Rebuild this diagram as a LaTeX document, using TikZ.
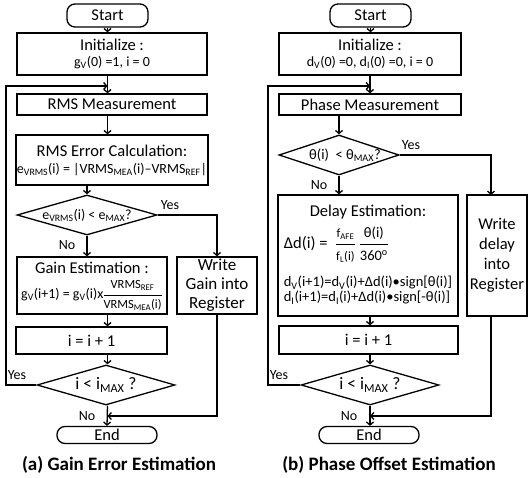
\documentclass[tikz,border=0pt]{standalone}
\usepackage{fontspec}
\setmainfont{Carlito}
\usepackage{amsmath}
\usetikzlibrary{shapes.geometric,arrows.meta}
\newcommand{\sbs}[1]{\textsubscript{#1}}
\newcommand{\mainsz}{\fontsize{16.5}{18}\selectfont}
\newcommand{\eqsz}{\fontsize{14}{15}\selectfont}
\newcommand{\dsz}{\fontsize{14.5}{15}\selectfont}
\newcommand{\frsz}{\fontsize{12.5}{13}\selectfont}
\tikzset{
    flow/.style={draw, line width=1.3pt, inner sep=1pt, align=center, font=\mainsz},
    term/.style={flow, rounded corners=8pt},
    proc/.style={flow},
    decis/.style={draw, line width=1.3pt, diamond, inner sep=0pt},
    arr/.style={line width=1.3pt, -{Straight Barb[length=3pt,width=7pt]}},
    tag/.style={font=\fontsize{14}{15}\selectfont, inner sep=0pt},
    capt/.style={font=\fontsize{19}{21}\selectfont\bfseries, inner sep=0pt}
}

\begin{document}
\begin{tikzpicture}[x=1pt, y=-1pt]
    \useasboundingbox (0,0) rectangle (528,478);

    % (a) gain
    \node[term, minimum width=81pt, minimum height=23pt] (startA) at (107.5,15.5) {Start};
    \node[proc, minimum width=190pt, minimum height=42pt] (initA) at (112,54)
        {Initialize :\\[-2pt] {\eqsz g\sbs{V}(0) =1, i = 0}};
    \node[proc, minimum width=190pt, minimum height=21pt] (measA) at (112,104.5) {RMS Measurement};
    \node[proc, minimum width=190pt, minimum height=50pt] (errA) at (112,160)
        {RMS Error Calculation:\\[-1pt] {\eqsz e\sbs{VRMS}(i) = |VRMS\sbs{MEA}(i)--VRMS\sbs{REF}|}};
    \node[decis, minimum width=140pt, minimum height=40pt,
        label={[font=\fontsize{14}{15}\selectfont]center:e\sbs{VRMS}(i) < e\sbs{MAX}?}] (decA1) at (87,215) {};
    \node[proc, minimum width=150pt, minimum height=57pt, inner sep=0pt] (gainA) at (92,285.5)
        {\begin{tabular}{@{}c@{}}
            Gain Estimation :\\[2pt]
            {\eqsz g\sbs{V}(i+1) = g\sbs{V}(i)x\hspace{-1pt}$\dfrac{\text{\frsz VRMS\sbs{REF}}}{\text{\frsz VRMS\sbs{MEA}(i)}}$}
        \end{tabular}};
    \node[proc, minimum width=80pt, minimum height=57pt, inner sep=0pt,
        font=\fontsize{17}{19}\selectfont] (writeA) at (217,285.5)
        {Write\\Gain into\\Register};
    \node[proc, minimum width=151pt, minimum height=27pt] (incA) at (91.5,340.5) {i = i + 1};
    \node[decis, minimum width=138pt, minimum height=40pt,
        label={[font=\fontsize{17.5}{19}\selectfont]center:i < i\sbs{MAX} ?}] (decA2) at (106,385) {};
    \node[term, minimum width=100pt, minimum height=17pt, inner sep=0pt] (endA) at (107,435) {End};
    \node[capt] (captA) at (119,465) {(a) Gain Error Estimation};

    \node[tag] (yesA1) at (170,205) {Yes};
    \node[tag] (noA1) at (67,245) {No};
    \node[tag] (yesA2) at (17,375) {Yes};
    \node[tag] (noA2) at (87,416) {No};

    \coordinate (loopA) at (107.5,86);
    \coordinate (cornerA) at (6,86);
    \coordinate (joinA) at (107.5,416);

    \draw[arr] (startA.south) -- (startA.south |- initA.north);
    \draw[arr] (initA.south -| startA) -- (measA.north -| startA);
    \draw[arr] (measA.south -| startA) -- (errA.north -| startA);
    \draw[arr] (errA.south -| decA1) -- (decA1.north);
    \draw[arr] (decA1.south) -- (decA1.south |- gainA.north);
    \draw[arr] (decA1.east) -| (writeA.north);
    \draw[arr] (gainA.south -| startA) -- (incA.north -| startA);
    \draw[arr] (incA.south -| startA) -- (decA2.north -| startA);
    \draw[arr] (decA2.south -| startA) -- (endA.north);
    \draw[arr] (writeA.south) |- (joinA);
    \draw[arr] (decA2.west) -| (cornerA) -- (loopA);

    % (b) phase
    \node[term, minimum width=81pt, minimum height=23pt] (startB) at (370.5,15.5) {Start};
    \node[proc, minimum width=182pt, minimum height=42pt] (initB) at (370,54)
        {Initialize :\\[-2pt] {\eqsz d\sbs{V}(0) =0, d\sbs{I}(0) =0, i = 0}};
    \node[proc, minimum width=182pt, minimum height=21pt] (measB) at (370,104.5) {Phase Measurement};
    \node[decis, minimum width=120pt, minimum height=40pt,
        label={[font=\fontsize{14.5}{16}\selectfont, xshift=6pt]center:θ(i)\ \ < θ\sbs{MAX}?}] (decB1) at (339,155) {};
    \node[proc, minimum width=180pt, minimum height=121pt, inner sep=0pt] (delayB) at (368,255.5)
        {\begin{tabular}{@{}l@{}}
            \multicolumn{1}{@{}c@{}}{Delay Estimation:}\\[5pt]
            Δd(i) =\ \ $\dfrac{\text{\frsz f\sbs{AFE}}}{\text{\frsz f\sbs{L}(i)}}
            \,\dfrac{\text{\dsz θ(i)}}{\text{\dsz 360\textsuperscript{o}}}$\\[20pt]
            {\dsz d\sbs{V}(i+1)=d\sbs{V}(i)+Δd(i)•sign[θ(i)]}\\[-3pt]
            {\dsz d\sbs{I}(i+1)=d\sbs{I}(i)+Δd(i)•sign[-θ(i)]}
        \end{tabular}};
    \node[proc, minimum width=60pt, minimum height=121pt, inner sep=0pt,
        font=\fontsize{16.5}{20}\selectfont] (writeB) at (497,255.5)
        {Write\\delay\\into\\Register};
    \node[proc, minimum width=179pt, minimum height=28pt] (incB) at (368.5,340) {i = i + 1};
    \node[decis, minimum width=138pt, minimum height=40pt,
        label={[font=\fontsize{17.5}{19}\selectfont]center:i < i\sbs{MAX} ?}] (decB2) at (370,385) {};
    \node[term, minimum width=100pt, minimum height=17pt, inner sep=0pt] (endB) at (369,435) {End};
    \node[capt] (captB) at (389,465) {(b) Phase Offset Estimation};

    \node[tag] (yesB1) at (411,145) {Yes};
    \node[tag] (noB1) at (319,185) {No};
    \node[tag] (yesB2) at (279,375) {Yes};
    \node[tag] (noB2) at (349,416) {No};

    \coordinate (loopB) at (370,86);
    \coordinate (cornerB) at (268,86);
    \coordinate (joinB) at (370,416);
    \coordinate (sideB) at (491,195);

    \draw[arr] (startB.south) -- (startB.south |- initB.north);
    \draw[arr] (initB.south -| loopB) -- (measB.north -| loopB);
    \draw[arr] (measB.south -| decB1) -- (decB1.north);
    \draw[arr] (decB1.south) -- (decB1.south |- delayB.north);
    \draw[arr] (decB1.east) -| (sideB);
    \draw[arr] (delayB.south -| loopB) -- (incB.north -| loopB);
    \draw[arr] (incB.south -| loopB) -- (decB2.north);
    \draw[arr] (decB2.south) -- (endB.north -| decB2);
    \draw[arr] (writeB.south -| sideB) |- (joinB);
    \draw[arr] (decB2.west) -| (cornerB) -- (loopB);
\end{tikzpicture}
\end{document}
